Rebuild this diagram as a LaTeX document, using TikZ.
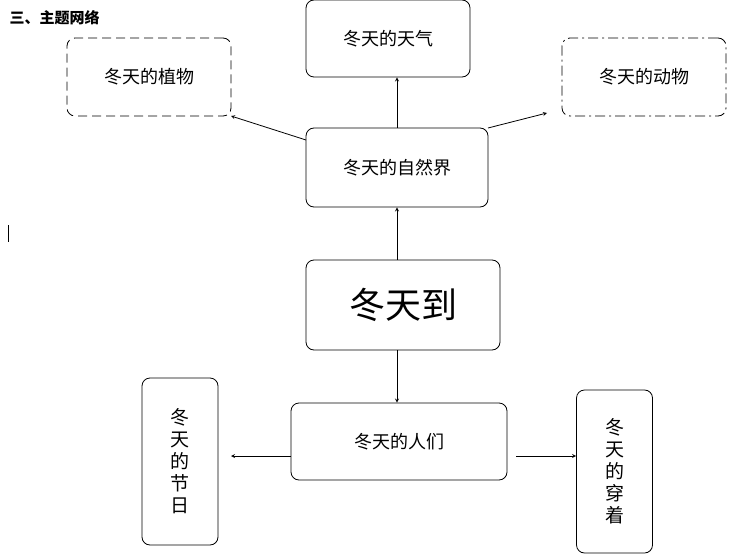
\documentclass[tikz,border=0pt]{standalone}
\usepackage{fontspec}
\newfontfamily\cjk{Noto Sans CJK SC}
\usetikzlibrary{positioning}
\tikzset{
  topic/.style={draw, rounded corners=8pt, thick, minimum width=#1, font=\cjk\fontsize{18}{20}\selectfont},
  topic/.default=164pt,
  tall/.style={draw, rounded corners=8pt, thick, minimum width=76pt, align=center, font=\cjk\fontsize{19}{22}\selectfont},
  link/.style={-stealth, thick}
}
\begin{document}
\begin{tikzpicture}[x=1pt,y=-1pt]
\useasboundingbox (0,0) rectangle (735,556);
\node[anchor=west, font=\cjk\bfseries\fontsize{15}{16}\selectfont] (title) at (6,18) {三、主题网络};
\draw[thick] (8,225) -- (8,242);

\node[topic, minimum height=77pt] (weather) at (388,38.5) {冬天的天气};
\node[topic, minimum height=78pt, dash pattern=on 9pt off 5pt] (plant) at (149,77) {冬天的植物};
\node[topic, minimum height=78pt, dash pattern=on 10pt off 4pt on 2pt off 4pt] (animal) at (644,77) {冬天的动物};
\node[topic=182pt, minimum height=79pt] (nature) at (397,167.5) {冬天的自然界};
\node[topic=194pt, minimum height=90pt, font=\cjk\fontsize{36}{40}\selectfont] (winter) at (403,305) {冬天到};
\node[topic=216pt, minimum height=77pt] (people) at (399,441.5) {冬天的人们};
\node[tall, minimum height=167pt] (festival) at (180,461.5) {冬\\天\\的\\节\\日};
\node[tall, minimum height=163pt] (clothes) at (614.5,471.5) {冬\\天\\的\\穿\\着};

\coordinate (plantEnd) at (231,116);
\coordinate (animalEnd) at (547,113);
\coordinate (festEnd) at (231,456);
\coordinate (clothStart) at (516,456);

\draw[link] (winter.north -| 397,0) -- (nature.south -| 397,0);
\draw[link] (nature.north -| 397,0) -- (weather.south -| 397,0);
\draw[link] (306,140) -- (plantEnd);
\draw[link] (488,128) -- (animalEnd);
\draw[link] (winter.south -| 397,0) -- (people.north -| 397,0);
\draw[link] (people.west |- 0,456) -- (festEnd);
\draw[link] (clothStart) -- (clothes.west |- 0,456);
\end{tikzpicture}
\end{document}
